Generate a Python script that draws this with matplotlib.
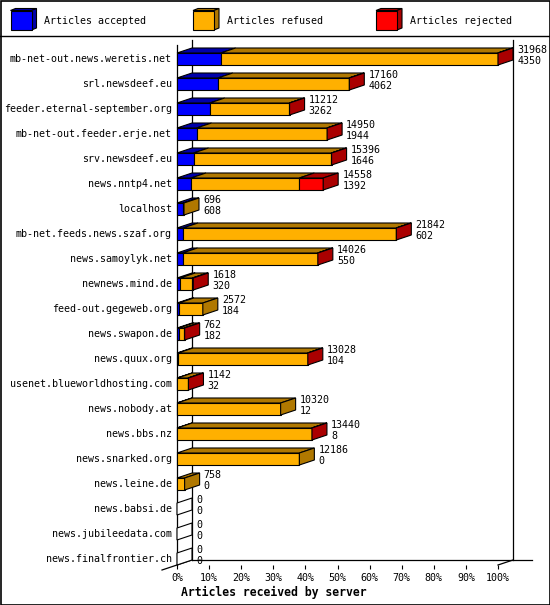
import matplotlib
matplotlib.use("Agg")
import matplotlib.pyplot as plt
from matplotlib.patches import Polygon, Rectangle
import numpy as np

plt.rcParams['font.family'] = 'DejaVu Sans Mono'

# Data
servers = [
    "mb-net-out.news.weretis.net", "srl.newsdeef.eu", "feeder.eternal-september.org",
    "mb-net-out.feeder.erje.net", "srv.newsdeef.eu", "news.nntp4.net", "localhost",
    "mb-net.feeds.news.szaf.org", "news.samoylyk.net", "newnews.mind.de",
    "feed-out.gegeweb.org", "news.swapon.de", "news.quux.org",
    "usenet.blueworldhosting.com", "news.nobody.at", "news.bbs.nz",
    "news.snarked.org", "news.leine.de", "news.babsi.de", "news.jubileedata.com",
    "news.finalfrontier.ch",
]
offered = [31968, 17160, 11212, 14950, 15396, 14558, 696, 21842, 14026, 1618,
           2572, 762, 13028, 1142, 10320, 13440, 12186, 758, 0, 0, 0]
accepted = [4350, 4062, 3262, 1944, 1646, 1392, 608, 602, 550, 320,
            184, 182, 104, 32, 12, 8, 0, 0, 0, 0, 0]
rejected = [20, 30, 20, 20, 20, 2380, 0, 20, 20, 90,
            0, 60, 20, 50, 0, 20, 0, 0, 0, 0, 0]
legend_labels = ["Articles accepted", "Articles refused", "Articles rejected"]
tick_values = list(range(0, 101, 10))

front_colors = ["#0000ff", "#ffb000", "#ff0000"]
dark_colors = ["#0000aa", "#b07800", "#aa0000"]

W, H = 550, 605
fig = plt.figure(figsize=(W / 100, H / 100), dpi=100)

# overlay in pixel coords for the frame and legend
bg = fig.add_axes([0, 0, 1, 1])
bg.set_xlim(0, W)
bg.set_ylim(H, 0)
bg.axis('off')
bg.add_patch(Rectangle((0.5, 0.5), W - 1, H - 1, fill=False, lw=1.2, ec='black'))
bg.plot([0, W], [36, 36], color='black', lw=1)
for k, lab in enumerate(legend_labels):
    x0 = [10.5, 193, 376][k]
    bg.add_patch(Polygon([(x0, 10.5), (x0 + 21, 10.5), (x0 + 26, 8.5), (x0 + 5, 8.5)],
                         closed=True, fc=dark_colors[k], ec='black', lw=0.8))
    bg.add_patch(Polygon([(x0 + 21, 10.5), (x0 + 26, 8.5), (x0 + 26, 28), (x0 + 21, 30)],
                         closed=True, fc=dark_colors[k], ec='black', lw=0.8))
    bg.add_patch(Rectangle((x0, 10.5), 21, 19.5, fc=front_colors[k], ec='black', lw=0.8))
    bg.text(x0 + 34, 20.5, lab, fontsize=7.2, va='center', ha='left')

# main chart axes
ax = fig.add_axes([177 / W, (H - 565) / H, 321 / W, 525 / H])
ax.patch.set_visible(False)
for s in ax.spines.values():
    s.set_visible(False)
ax.set_xlim(0, 100)
ax.set_ylim(20.24, -0.76)

dx, dy, h = 4.67, 0.2, 0.48
max_off = max(offered)
n = len(servers)
y = np.arange(n)

# walls / floor
ax.plot([0, 0], [-0.56, 20.24], color='black', lw=0.9, clip_on=False)
ax.plot([dx, dx], [-0.76, 20.24 - dy], color='black', lw=0.9, clip_on=False)
ax.plot([100 + dx, 100 + dx], [-0.76, 20.24 - dy], color='black', lw=0.9, clip_on=False)
ax.plot([dx, 110.6], [20.24 - dy, 20.24 - dy], color='black', lw=0.9, clip_on=False)
ax.plot([-dx, dx], [20.24 + dy, 20.24 - dy], color='black', lw=0.9, clip_on=False)
ax.plot([100, 100 + dx], [20.24, 20.24 - dy], color='black', lw=0.9, clip_on=False)

for i in range(n):
    refused = offered[i] - accepted[i] - rejected[i]
    parts = [accepted[i], refused, rejected[i]]
    left = 0.0
    last = None
    top = y[i] - h / 2
    bot = y[i] + h / 2
    for k, v in enumerate(parts):
        w = 100.0 * v / max_off
        if v <= 0:
            continue
        ax.barh(y[i], w, left=left, height=h, color=front_colors[k],
                edgecolor='black', lw=0.8, zorder=3, clip_on=False)
        ax.add_patch(Polygon([(left, top), (left + w, top), (left + w + dx, top - dy),
                              (left + dx, top - dy)], closed=True, fc=dark_colors[k],
                             ec='black', lw=0.8, zorder=3, clip_on=False))
        left += w
        last = k
    side_fc = dark_colors[last] if last is not None else 'white'
    ax.add_patch(Polygon([(left, top), (left + dx, top - dy), (left + dx, bot - dy),
                          (left, bot)], closed=True, fc=side_fc, ec='black',
                         lw=0.8, zorder=3, clip_on=False))
    ax.text(left + dx + 1.3, y[i] - 0.36, str(offered[i]), fontsize=7.2,
            va='center', ha='left', clip_on=False)
    ax.text(left + dx + 1.3, y[i] + 0.08, str(accepted[i]), fontsize=7.2,
            va='center', ha='left', clip_on=False)
    ax.text(-1.6, y[i], servers[i], fontsize=7.2, va='center', ha='right', clip_on=False)

ax.set_yticks([])
ax.set_xticks(tick_values)
ax.set_xticklabels([f"{v}%" for v in tick_values], fontsize=7.2)
ax.tick_params(axis='x', direction='out', length=3, width=0.8, pad=2.5)
ax.set_xlabel("Articles received by server", fontsize=8.3, fontweight='bold')
ax.xaxis.set_label_coords(0.302, -0.04)

fig.savefig("out.png", dpi=100)
